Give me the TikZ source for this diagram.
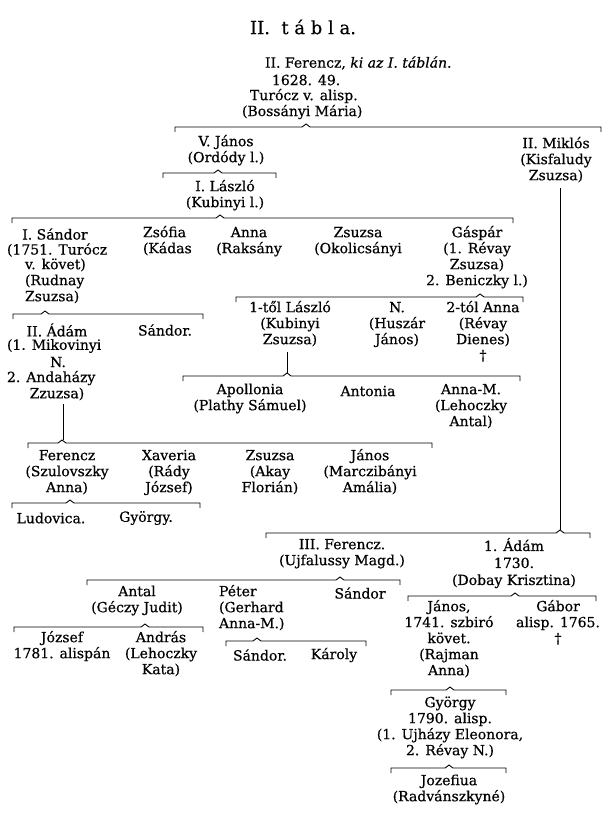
\documentclass[tikz,border=0pt]{standalone}
\usepackage{fontspec}
\setmainfont{DejaVu Serif}[FakeBold=0.5]
\newcommand\chartfont{\fontsize{14}{16}\selectfont}
\newcommand\brk[4]{\draw[brline] ({#1},{#4+5}) -- ({#1},{#4}) -- ({#3-4},{#4}) -- ({#3},{#4-3}) -- ({#3+4},{#4}) -- ({#2},{#4}) -- ({#2},{#4+5});}
\tikzset{
  every node/.style={inner sep=0pt, outer sep=0pt, font=\chartfont},
  blk/.style={anchor=north, align=center},
  blkl/.style={anchor=north west, align=left},
  ln/.style={anchor=center},
  lnl/.style={anchor=west},
  brline/.style={line width=0.9pt, line join=miter},
  vline/.style={line width=0.9pt},
}
\begin{document}
\begin{tikzpicture}[x={(1pt,0)}, y={(0,-1pt)}]
\fill[white] (0,0) rectangle (613,813);
\useasboundingbox (0,0) rectangle (613,813);

\node[font=\fontsize{18}{20}\selectfont] (title) at (303,27) {II.\ \ t á b l a.};

% top ancestor
\node[lnl] (f1) at (265,63) {II. Ferencz, \textit{ki az I. táblán.}};
\node[lnl] (f2) at (272,80) {1628. 49.};
\node[lnl] (f3) at (250,96) {Turócz v. alisp.};
\node[lnl] (f4) at (242,112) {(Bossányi Mária)};
\brk{175}{601}{306}{127}

\node[blk] (janos5) at (226,135) {\strut V. János\\(Ordódy l.)};
\node[blk] (miklos2) at (556,137) {\strut II. Miklós\\(Kisfaludy\\Zsuzsa)};
\coordinate (mtop) at (560,188);
\coordinate (mbot) at (560,530);
\draw[vline] (mtop) -- (mbot);

\brk{163}{276}{218}{173}
\node[blk] (laszlo1) at (225,180) {\strut I. László\\(Kubinyi l.)};
\brk{12}{513}{220}{218}

% row 3
\node[ln] (sandor1a) at (55,234) {I. Sándor};
\node[lnl] (sandor1b) at (7,250) {(1751. Turócz};
\node[blkl] (sandor1c) at (25,258) {\strut v. követ)\\(Rudnay\\Zsuzsa)};
\node[blkl] (zsofia) at (143,226) {\strut Zsófia\\(Kádas};
\node[blk] (anna1) at (249,226) {\strut Anna\\(Raksány};
\node[blk] (zsuzsa1) at (358,226) {\strut Zsuzsa\\(Okolicsányi};
\node[blk] (gaspar) at (477,226) {\strut Gáspár\\(1. Révay\\Zsuzsa)\\2. Beniczky l.)};

% under I. Sandor
\brk{13}{203}{45}{314}
\node[ln] (adam2a) at (57,330) {II. Ádám};
\node[lnl] (adam2b) at (7,346) {(1. Mikovinyi};
\node[ln] (adam2c) at (58,362) {N.};
\node[lnl] (adam2d) at (7,378) {2. Andaházy};
\node[ln] (adam2e) at (57,394) {Zzuzsa)};
\node[ln] (sandor2) at (165,330) {Sándor.};
\coordinate (atop) at (63,404);
\coordinate (abot) at (63,440);
\draw[vline] (atop) -- (abot);

% under Gaspar
\brk{236}{523}{480}{297}
\node[blk] (laszlo2) at (290,301) {\strut 1-től László\\(Kubinyi\\Zsuzsa)};
\node[blk] (nhuszar) at (397,301) {\strut N.\\(Huszár\\János)};
\node[blk] (anna2) at (483,301) {\strut 2-tól Anna\\(Révay\\Dienes)\\†};
\coordinate (ktop) at (287,352);
\coordinate (kbot) at (287,373);
\draw[vline] (ktop) -- (kbot);

\brk{183}{520}{287}{376}
\node[blk] (apollonia) at (250,383) {\strut Apollonia\\(Plathy Sámuel)};
\node[ln] (antonia) at (368,391) {Antonia};
\node[blk] (annam1) at (471,383) {\strut Anna-M.\\(Lehoczky\\Antal)};

% under II. Adam
\brk{28}{432}{62}{443}
\node[blk] (ferencz2) at (67,449) {\strut Ferencz\\(Szulovszky\\Anna)};
\node[blk] (xaveria) at (169,449) {\strut Xaveria\\(Rády\\József)};
\node[blk] (zsuzsa2) at (270,449) {\strut Zsuzsa\\(Akay\\Florián)};
\node[blk] (janos2) at (370,449) {\strut János\\(Marczibányi\\Amália)};

\brk{12}{200}{70}{503}
\node[ln] (ludovica) at (51,518) {Ludovica.};
\node[ln] (gyorgy1) at (146,518) {György.};

% under II. Miklos
\brk{266}{590}{560}{533}
\node[blk] (ferencz3) at (342,538) {\strut III. Ferencz.\\(Ujfalussy Magd.)};
\node[blk, font=\fontsize{14}{17}\selectfont] (adam1) at (514,538) {\strut 1. Ádám\\1730.\\(Dobay Krisztina)};

\brk{87}{400}{340}{580}
\node[blk] (antal) at (137,585) {\strut Antal\\(Géczy Judit)};
\node[blkl] (peter) at (219,585) {\strut Péter\\(Gerhard\\Anna-M.)};
\node[ln] (sandor3) at (360,593) {Sándor};

\brk{408}{596}{515}{596}
\node[blk] (janos3) at (449,600) {\strut János,\\1741. szbiró\\követ.\\(Rajman\\Anna)};
\node[blk] (gabor) at (558,600) {\strut Gábor\\alisp. 1765.\\†};

\brk{14}{203}{145}{627}
\node[blk] (jozsef) at (62,631) {\strut József\\1781. alispán};
\node[blk] (andras) at (161,631) {\strut András\\(Lehoczky\\Kata)};

\brk{226}{366}{257}{641}
\node[ln] (sandor4) at (260,655) {Sándor.};
\node[ln] (karoly) at (334,655) {Károly};

\brk{391}{506}{450}{690}
\node[blk] (gyorgy2) at (450,696) {\strut György\\1790. alisp.\\(1. Ujházy Eleonora,\\2. Révay N.)};

\brk{391}{506}{449}{768}
\node[blk] (jozefina) at (449,774) {\strut Jozefiua\\(Radvánszkyné)};
\end{tikzpicture}
\end{document}
